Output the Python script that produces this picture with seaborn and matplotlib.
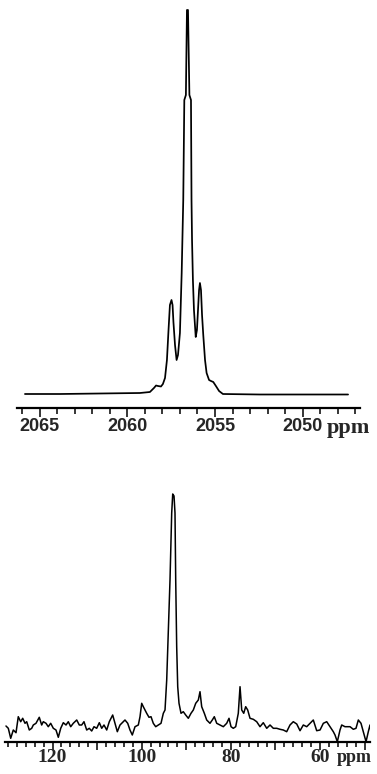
import matplotlib
matplotlib.use("Agg")
import matplotlib.pyplot as plt
import seaborn as sns
import pandas as pd
from matplotlib.ticker import FixedLocator, FixedFormatter, MultipleLocator

# ---------------- data ----------------
# Top spectrum: chemical shift (ppm) and intensity (a.u.)
top_ppm = [2065.83, 2063.83, 2061.56, 2059.28, 2058.71, 2058.48, 2058.36, 2058.25,
           2058.08, 2057.97, 2057.85, 2057.74, 2057.65, 2057.57, 2057.48, 2057.42,
           2057.37, 2057.28, 2057.19, 2057.11, 2057.00, 2056.90, 2056.81, 2056.75,
           2056.66, 2056.60, 2056.54, 2056.46, 2056.37, 2056.34, 2056.31, 2056.26,
           2056.20, 2056.10, 2056.03, 2055.97, 2055.91, 2055.86, 2055.80, 2055.74,
           2055.67, 2055.57, 2055.48, 2055.34, 2055.23, 2055.10, 2054.95, 2054.77,
           2054.55, 2052.44, 2050.16, 2047.42]
top_intensity = [0, 0, 0.5, 1, 2, 6, 8.5, 8,
                 7.5, 10, 16, 34, 64, 89, 94, 89,
                 72, 49, 34, 39, 61, 121, 194, 294,
                 299, 384, 384, 299, 294, 194, 154, 114,
                 84, 57, 64, 84, 104, 111, 104, 79,
                 59, 34, 21, 14, 13, 12, 8, 3,
                 0, -0.5, -0.5, -0.5]

# Bottom spectrum
bottom_ppm = [130.45, 129.93, 129.39, 128.81, 128.20, 127.69, 127.15, 126.70, 126.18, 125.80,
              125.22, 124.68, 124.32, 123.72, 122.98, 122.44, 122.08, 121.47, 120.96, 120.42,
              119.83, 119.23, 118.71, 118.17, 117.59, 116.98, 116.47, 115.93, 115.35, 114.58,
              114.00, 113.46, 112.95, 112.34, 111.76, 111.22, 110.70, 110.10, 109.51, 108.97,
              108.46, 107.85, 107.27, 106.51, 105.99, 105.47, 104.87, 104.13,
              103.75, 103.14, 102.63, 102.11, 101.50, 100.76, 100.38, 100.00, 99.64, 99.26,
              98.88, 98.36, 97.91, 97.40, 96.86, 96.28, 95.67, 95.15, 94.77, 94.39,
              94.03, 93.65, 93.27, 93.04, 92.75, 92.53, 92.37, 92.15, 91.92, 91.63,
              91.18, 90.67, 90.13, 89.54, 88.94, 88.42, 87.88, 87.30, 86.92, 86.54,
              85.95, 85.42, 84.68, 84.16, 83.71, 83.17, 82.43, 81.69, 80.93, 80.41,
              79.96, 79.45, 78.91, 78.33, 77.94, 77.56, 77.11, 76.67, 76.22, 75.70,
              74.96, 74.20, 73.46, 72.72, 71.95, 71.21, 70.47, 69.71, 68.97, 68.23,
              67.47, 66.73, 65.99, 65.22, 64.48, 63.74, 62.98, 62.24, 61.50, 60.74,
              59.99, 59.25, 58.49, 57.75, 57.01, 56.63, 56.11, 55.51, 55.13, 54.39,
              53.26, 52.52, 51.92, 51.40, 50.80, 50.28, 49.67, 49.16, 48.78, 48.40]
bottom_intensity = [15.7, 13.4, 3.4, 11.7, 9.0, 25.0, 20.0, 23.4, 18.4, 20.0,
                    11.7, 13.4, 16.7, 18.4, 24.4, 16.7, 20.0, 18.4, 15.0, 18.4,
                    13.4, 11.7, 4.4, 13.4, 19.0, 16.7, 20.0, 15.0, 18.4, 21.7,
                    16.7, 16.7, 20.0, 11.7, 13.4, 10.7, 15.0, 13.4, 19.0, 13.4,
                    16.7, 11.7, 20.0, 26.7, 18.4, 10.0, 16.7, 20.0,
                    21.7, 18.4, 11.7, 6.7, 15.0, 16.7, 25.0, 38.4, 35.0, 31.7,
                    28.4, 24.4, 25.0, 18.4, 15.0, 16.7, 18.4, 28.4, 31.7, 61.7,
                    111.7, 161.7, 228.7, 247.7, 245.7, 228.7, 161.7, 95.0, 55.0, 38.4,
                    28.4, 30.0, 26.7, 23.4, 28.4, 31.7, 38.4, 41.7, 50.0, 35.0,
                    28.4, 21.7, 18.4, 21.7, 25.0, 18.4, 16.7, 15.0, 18.4, 23.4,
                    15.0, 13.4, 15.0, 28.4, 55.0, 31.7, 28.4, 35.0, 31.7, 23.4,
                    22.4, 20.0, 15.0, 19.0, 13.4, 16.7, 13.4, 13.4, 12.4, 11.7,
                    10.0, 16.7, 20.0, 17.7, 11.0, 16.7, 15.0, 18.4, 21.7, 11.0,
                    11.7, 18.4, 20.0, 15.0, 10.0, 6.7, 0.0, 11.7, 16.7, 15.0,
                    15.0, 12.4, 13.4, 21.7, 18.4, 10.0, 0.0, 10.0, 16.7, 5.7]

top_major_ticks = [2065, 2060, 2055, 2050]
top_tick_labels = ["2065", "2060", "2055", "2050"]
bottom_major_ticks = [120, 110, 100, 90, 80, 70, 60, 50]
bottom_tick_labels = ["120", "", "100", "", "80", "", "60", ""]
unit_label = "ppm"

top_df = pd.DataFrame({"ppm": top_ppm, "intensity": top_intensity})
bottom_df = pd.DataFrame({"ppm": bottom_ppm, "intensity": bottom_intensity})

# ---------------- figure ----------------
sns.set_theme(style="white")
plt.rcParams['font.family'] = ['Liberation Sans', 'DejaVu Sans']

W, H = 377, 774
fig = plt.figure(figsize=(W / 100, H / 100), dpi=100)


def px_axes(l, t, r, b):
    return fig.add_axes([l / W, 1 - b / H, (r - l) / W, (b - t) / H])


ax1 = px_axes(16.7, 8, 360, 408)
ax2 = px_axes(5, 490, 370, 741.7)

sns.lineplot(data=top_df, x="ppm", y="intensity", ax=ax1, color="black",
             lw=1.25, estimator=None, sort=False)
sns.lineplot(data=bottom_df, x="ppm", y="intensity", ax=ax2, color="black",
             lw=1.1, estimator=None, sort=False)

ax1.set_xlim(2066.30, 2046.74)
ax1.set_ylim(-14, 386)
ax2.set_xlim(130.67, 48.78)
ax2.set_ylim(0, 251.7)

for ax in (ax1, ax2):
    ax.set_xlabel("")
    ax.set_ylabel("")
    ax.set_yticks([])
    ax.set_facecolor("none")
    for s in ("left", "right", "top"):
        ax.spines[s].set_visible(False)
    ax.spines["bottom"].set_linewidth(1.6)
    ax.spines["bottom"].set_color("black")
    ax.tick_params(axis="x", which="both", direction="out", color="black",
                   width=1.1, bottom=True)

ax1.xaxis.set_major_locator(FixedLocator(top_major_ticks))
ax1.xaxis.set_major_formatter(FixedFormatter(top_tick_labels))
ax1.xaxis.set_minor_locator(MultipleLocator(1))
ax1.tick_params(axis="x", which="major", length=6.5, pad=1)
ax1.tick_params(axis="x", which="minor", length=4.3)
for lab in ax1.get_xticklabels():
    lab.set_fontfamily(["Liberation Sans", "DejaVu Sans"])
    lab.set_fontweight("bold")
    lab.set_fontsize(13)

ax2.xaxis.set_major_locator(FixedLocator(bottom_major_ticks))
ax2.xaxis.set_major_formatter(FixedFormatter(bottom_tick_labels))
ax2.xaxis.set_minor_locator(MultipleLocator(2))
ax2.tick_params(axis="x", which="major", length=5.5, pad=0)
ax2.tick_params(axis="x", which="minor", length=3.8)
for lab in ax2.get_xticklabels():
    lab.set_fontfamily(["Liberation Serif", "DejaVu Serif"])
    lab.set_fontweight("bold")
    lab.set_fontsize(14)

fig.text(327 / W, 1 - 433 / H, unit_label, fontsize=16, fontweight="bold",
         family=["Liberation Serif", "DejaVu Serif"], ha="left", va="baseline")
fig.text(337 / W, 1 - 762 / H, unit_label, fontsize=13, fontweight="bold",
         family=["Liberation Serif", "DejaVu Serif"], ha="left", va="baseline")

fig.savefig("out.png", dpi=100, facecolor="white")
